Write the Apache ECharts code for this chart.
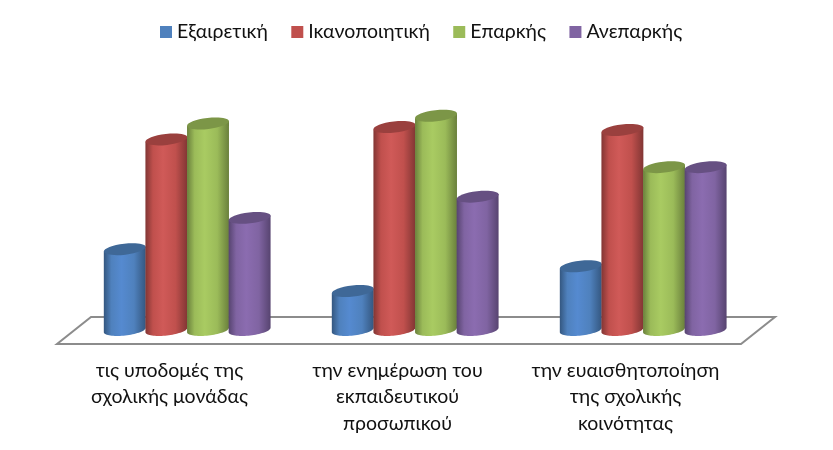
<!DOCTYPE html>
<html><head><meta charset="utf-8">
<style>html,body{margin:0;padding:0;background:#fff}#c{width:833px;height:450px}</style>
<script src="https://cdn.jsdelivr.net/npm/echarts@6/dist/echarts.min.js"></script>
</head><body><div id="c"></div>
<script>
const categories = ['τις υποδομές της\nσχολικής μονάδας','την ενημέρωση του\nεκπαιδευτικού\nπροσωπικού','την ευαισθητοποίηση\nτης σχολικής\nκοινότητας'];
const seriesNames = ['Εξαιρετική','Ικανοποιητική','Επαρκής','Ανεπαρκής'];
const excellent = [13.7, 6.6, 10.8];
const satisfactory = [32.3, 34.4, 33.9];
const adequate = [35.0, 36.3, 27.6];
const inadequate = [19.0, 22.6, 27.6];
const seriesValues = [excellent, satisfactory, adequate, inadequate];
const baseColors = ['#4f81bd','#c0504d','#9bbb59','#8064a2'];
const lightColors = ['#558ad0','#d05a58','#a9cb62','#8b6cb0'];
const edgeColors = ['#345780','#823634','#6a803c','#574470'];
const capColors = ['#3f6897','#9a403e','#7c9647','#665082'];
const FONT = 'Lato, "Open Sans", sans-serif';

const chart = echarts.init(document.getElementById('c'), null, {renderer:'canvas'});
const tilt = -6.5 * Math.PI / 180;
function ellPt(cx, cy, a, b, t){
  return [cx + a*Math.cos(t)*Math.cos(tilt) - b*Math.sin(t)*Math.sin(tilt),
          cy + a*Math.cos(t)*Math.sin(tilt) + b*Math.sin(t)*Math.cos(tilt)];
}
function cylinder(si){
  return function(params, api){
    const band = api.size([1,0])[0];
    const bw = band * 0.1825;
    const top = api.coord([api.value(0), api.value(1)]);
    const base = api.coord([api.value(0), 0]);
    const cx = top[0] + (si - 1.5) * bw - 0.3;
    const a = bw/2 + 0.3, b = 5.5;
    const pts = [ellPt(cx, top[1], a, b, 0), ellPt(cx, top[1], a, b, Math.PI)];
    for (let i=0;i<=36;i++){ pts.push(ellPt(cx, base[1], a, b, Math.PI - Math.PI*i/36)); }
    const fill = new echarts.graphic.LinearGradient(0,0,1,0,[
      {offset:0,color:edgeColors[si]},{offset:0.18,color:baseColors[si]},
      {offset:0.42,color:lightColors[si]},{offset:0.72,color:baseColors[si]},{offset:1,color:edgeColors[si]}]);
    return {type:'group',children:[
      {type:'polygon',shape:{points:pts},style:{fill:fill}},
      {type:'ellipse',x:cx,y:top[1],rotation:-tilt,originX:0,originY:0,
       shape:{cx:0,cy:0,rx:a,ry:b},style:{fill:capColors[si]}}
    ]};
  };
}
chart.setOption({
  animation:false,
  backgroundColor:'#fff',
  textStyle:{fontFamily:FONT},
  legend:{top:17,left:155,itemWidth:12,itemHeight:12,itemGap:23.4,icon:'rect',
    data:seriesNames.map((n,i)=>({name:n,itemStyle:{color:baseColors[i]}})),
    textStyle:{fontSize:19.5,color:'#111',fontFamily:FONT}},
  grid:{left:73.5,right:75.5,top:94,height:236},
  xAxis:{type:'category',data:categories,axisLine:{show:false},axisTick:{show:false},
    axisLabel:{interval:0,margin:27,fontSize:19.5,lineHeight:26.5,color:'#111',fontFamily:FONT,align:'center',verticalAlign:'top',padding:[0,36,0,0]}},
  yAxis:{type:'value',min:0,max:40,show:false,splitLine:{show:false}},
  graphic:[{type:'polygon',z:0,shape:{points:[[57,344],[741,344],[775,317],[91,317]]},
    style:{fill:'#fff',stroke:'#8c8c8c',lineWidth:2}}],
  series:seriesNames.map((n,i)=>({
    name:n,type:'custom',z:5,clip:false,itemStyle:{color:baseColors[i]},
    renderItem:cylinder(i),encode:{x:0,y:1},
    data:seriesValues[i].map((v,k)=>[k,v])
  }))
});
</script></body></html>
